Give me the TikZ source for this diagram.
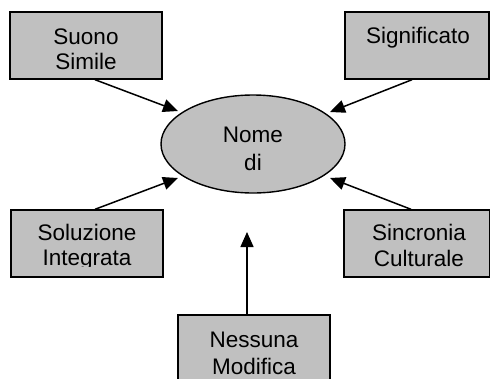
\documentclass[tikz,border=0pt]{standalone}
\usepackage{fontspec}
\setmainfont{Liberation Sans}
\usetikzlibrary{arrows.meta,shapes.geometric}
\definecolor{boxgray}{HTML}{C0C0C0}
\begin{document}
\begin{tikzpicture}[x=1pt,y=-1pt,
  boxnode/.style={draw=black,fill=boxgray,line width=1.4pt,rectangle,inner sep=0pt},
  lbl/.style={font=\fontsize{22.5}{25}\selectfont,anchor=base,inner sep=0pt},
  conn/.style={line width=1.5pt,-{Triangle[length=15pt,width=13pt]}}]
\clip (0,0) rectangle (490,378);
\useasboundingbox (0,0) rectangle (490,378);

% boxes
\node[boxnode,minimum width=152pt,minimum height=67pt] (suono) at (86,45.5) {};
\node[boxnode,minimum width=144pt,minimum height=67pt] (signif) at (417,45.5) {};
\node[boxnode,minimum width=152pt,minimum height=67pt] (soluz) at (87,243.5) {};
\node[boxnode,minimum width=146pt,minimum height=67pt] (sincr) at (417,243.5) {};
\node[boxnode,minimum width=152pt,minimum height=100pt] (nessuna) at (254,365) {};
\node[draw=black,fill=boxgray,line width=1.4pt,ellipse,inner sep=0pt,
      minimum width=184pt,minimum height=98pt] (nome) at (253,144) {};

% labels
\node[lbl] (t1a) at (86,44) {Suono};
\node[lbl] (t1b) at (86,69) {Simile};
\node[lbl] (t2a) at (418,43) {Significato};
\node[lbl] (t3a) at (87,240) {Soluzione};
\begin{scope}
  \clip (11,212) rectangle (163,266.5);
  \node[lbl] (t3b) at (87,265.5) {Integrata};
\end{scope}
\node[lbl] (t4a) at (419,240) {Sincronia};
\node[lbl] (t4b) at (419,266) {Culturale};
\node[lbl] (t5a) at (254,347) {Nessuna};
\node[lbl] (t5b) at (254,374.5) {Modifica};
\node[lbl] (t6a) at (253,142) {Nome};
\node[lbl] (t6b) at (253,170) {di};

% arrow tips
\coordinate (e1) at (178,111);
\coordinate (e2) at (330,112);
\coordinate (e3) at (178,178);
\coordinate (e4) at (330,178);
\coordinate (e5) at (247,232);

\draw[conn] ([xshift=9pt]suono.south) -- (e1);
\draw[conn] ([xshift=-5pt]signif.south) -- (e2);
\draw[conn] ([xshift=8pt]soluz.north) -- (e3);
\draw[conn] ([xshift=-6pt]sincr.north) -- (e4);
\draw[conn] ([xshift=-7pt]nessuna.north) -- (e5);
\end{tikzpicture}
\end{document}
